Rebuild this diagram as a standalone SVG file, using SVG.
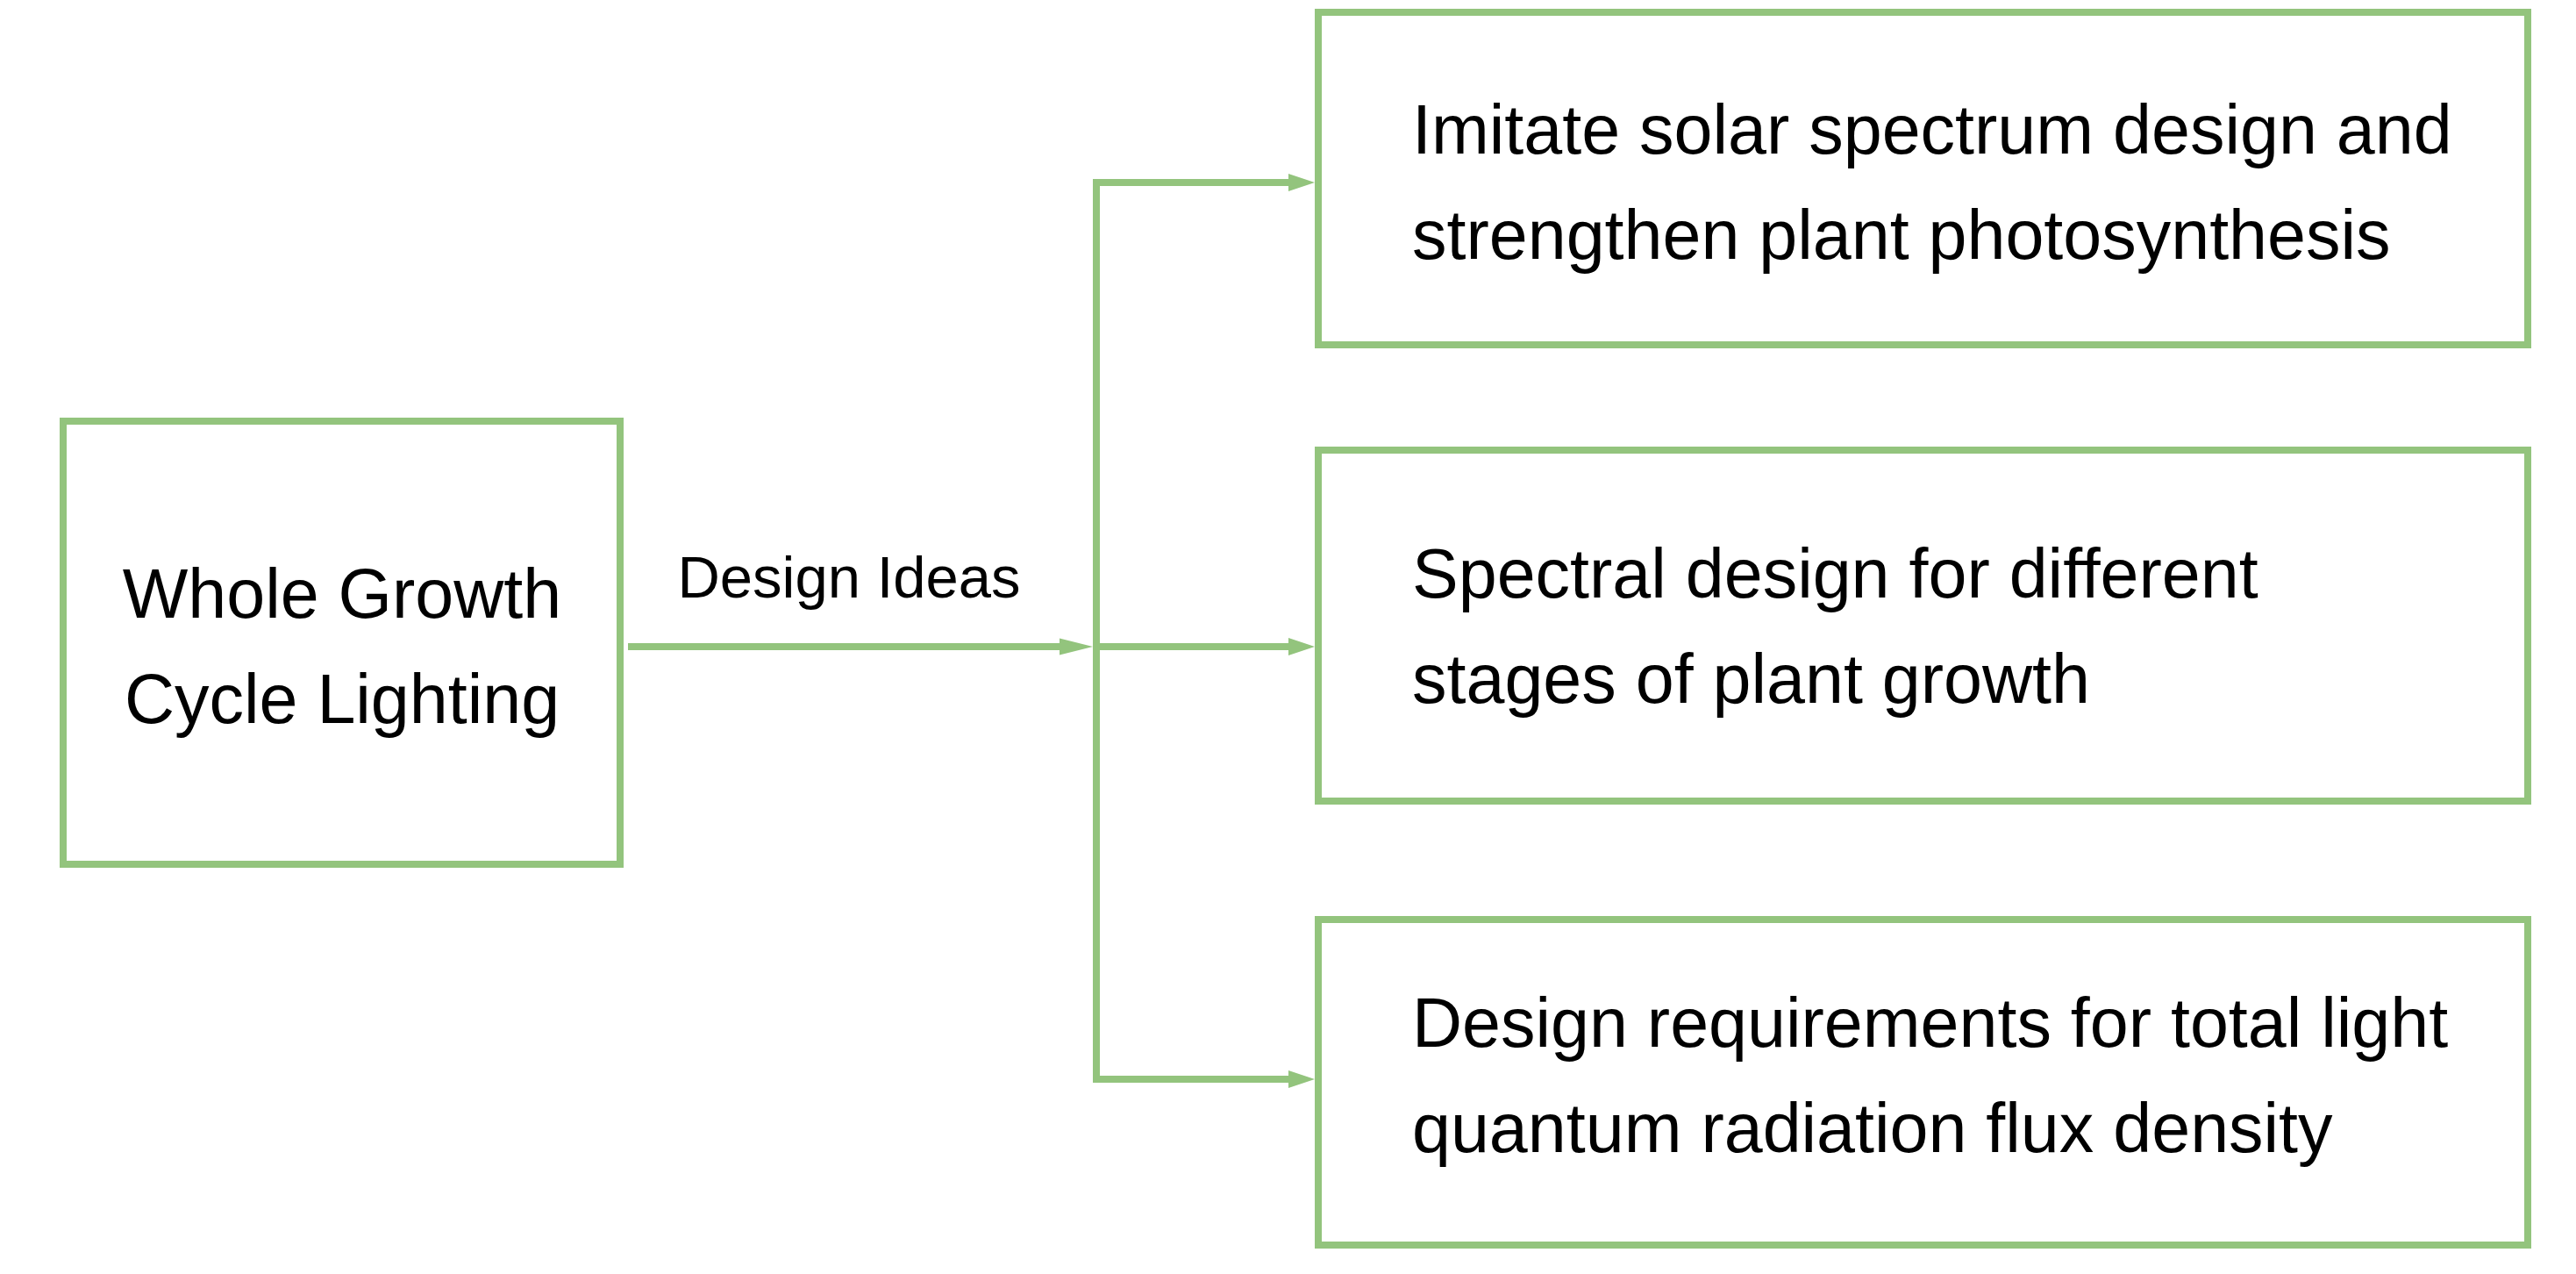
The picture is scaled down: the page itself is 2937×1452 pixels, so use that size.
<svg xmlns="http://www.w3.org/2000/svg" width="2937" height="1452" viewBox="0 0 2937 1452">
  <style>
    .box { fill: #ffffff; stroke: #93c47d; stroke-width: 8; }
    .conn { fill: none; stroke: #93c47d; stroke-width: 8; stroke-linejoin: miter; stroke-linecap: butt; }
    .lbl { font-family: "Liberation Sans", Arial, sans-serif; fill: #000000; }
    .big { font-size: 79px; }
    .mid { font-size: 67px; }
  </style>
  <defs>
    <marker id="arrow" markerUnits="userSpaceOnUse" markerWidth="30" markerHeight="20" refX="0" refY="10" orient="auto" overflow="visible">
      <path d="M0,0 L30,10 L0,20 Z" fill="#93c47d"/>
    </marker>
    <marker id="arrowLong" markerUnits="userSpaceOnUse" markerWidth="38" markerHeight="19" refX="0" refY="9.5" orient="auto" overflow="visible">
      <path d="M0,0 L38,9.5 L0,19 Z" fill="#93c47d"/>
    </marker>
  </defs>
  <rect width="2937" height="1452" fill="#ffffff"/>

  <g id="connectors">
    <path class="conn" d="M716,737 H1208" marker-end="url(#arrowLong)"/>
    <path class="conn" d="M1250,737 V208 H1469" marker-end="url(#arrow)"/>
    <path class="conn" d="M1250,737 H1469" marker-end="url(#arrow)"/>
    <path class="conn" d="M1250,737 V1230 H1469" marker-end="url(#arrow)"/>
    <text class="lbl mid" x="968" y="681" text-anchor="middle">Design Ideas</text>
  </g>

  <g id="node-whole-growth">
    <rect class="box" x="72" y="480" width="635" height="505"/>
    <text class="lbl big" x="390" y="704" text-anchor="middle">Whole Growth</text>
    <text class="lbl big" x="390" y="824" text-anchor="middle">Cycle Lighting</text>
  </g>

  <g id="node-solar">
    <rect class="box" x="1503" y="14" width="1379" height="379"/>
    <text class="lbl big" x="1610" y="175">Imitate solar spectrum design and</text>
    <text class="lbl big" x="1610" y="295">strengthen plant photosynthesis</text>
  </g>

  <g id="node-stages">
    <rect class="box" x="1503" y="513" width="1379" height="400"/>
    <text class="lbl big" x="1610" y="681">Spectral design for different</text>
    <text class="lbl big" x="1610" y="801">stages of plant growth</text>
  </g>

  <g id="node-flux">
    <rect class="box" x="1503" y="1048" width="1379" height="371"/>
    <text class="lbl big" x="1610" y="1193">Design requirements for total light</text>
    <text class="lbl big" x="1610" y="1313">quantum radiation flux density</text>
  </g>
</svg>
